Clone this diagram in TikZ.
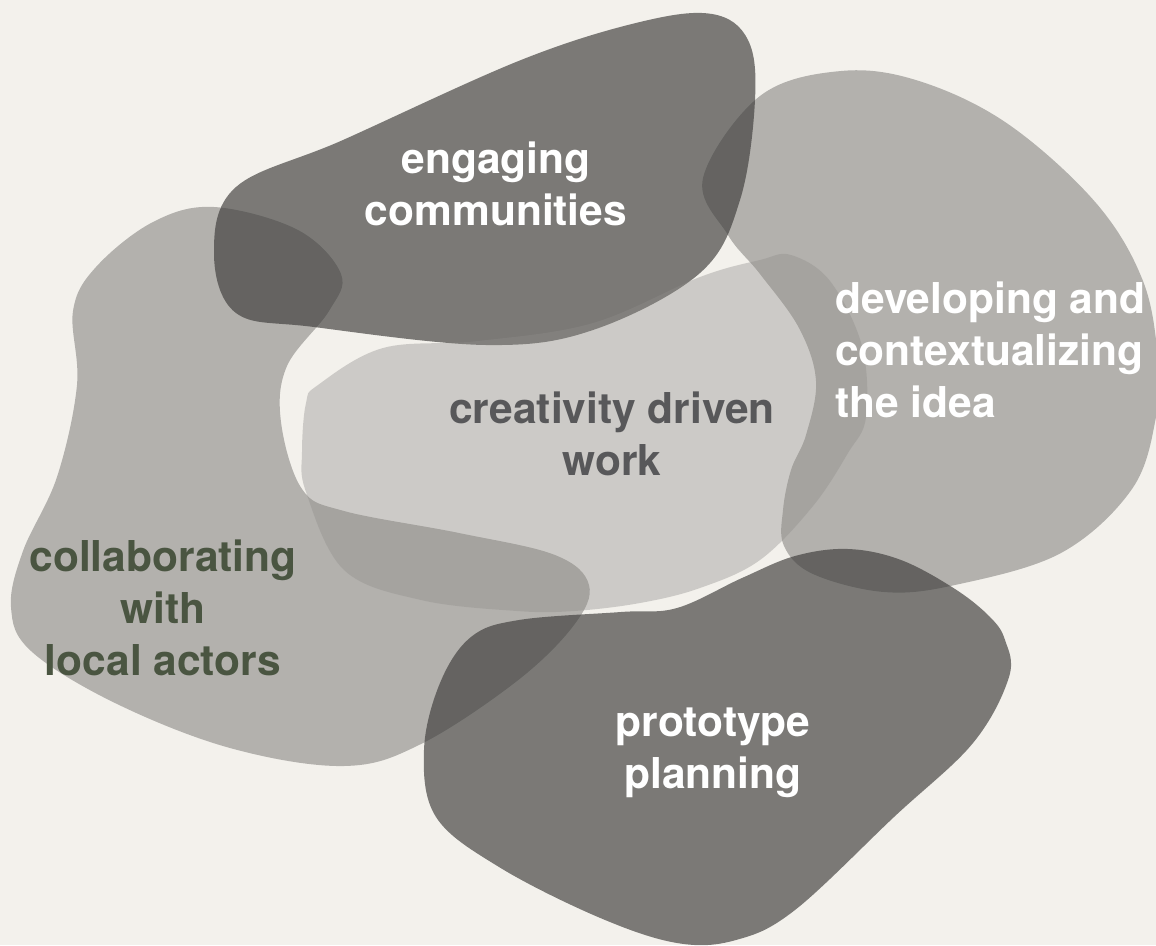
\documentclass[tikz,border=0pt]{standalone}
\usepackage{fontspec}
\setmainfont{TeX Gyre Heros}
\definecolor{bgc}{HTML}{F3F1EC}
\definecolor{blobc}{HTML}{3C3B39}
\definecolor{centc}{HTML}{8E8C8A}
\definecolor{greytext}{HTML}{58585A}
\definecolor{olivetext}{HTML}{4A5541}
\definecolor{whitetext}{HTML}{FFFFFF}
\tikzset{
  lightblob/.style={fill=blobc, fill opacity=0.35},
  darkblob/.style={fill=blobc, fill opacity=0.656},
  centblob/.style={fill=centc, fill opacity=0.375},
  lbl/.style={font=\fontsize{42.5}{52}\selectfont\bfseries, inner sep=0pt, align=center, anchor=base},
  lbll/.style={lbl, align=left}
}
\begin{document}
\begin{tikzpicture}[x=1pt,y=-1pt]
\useasboundingbox (0,0) rectangle (1156,945);
\fill[bgc] (0,0) rectangle (1156,945);
% collaborating
\fill[lightblob] plot[smooth cycle, tension=0.6] coordinates {
 (214,207) (298,230) (341,274) (329,311) (287,366) (281,422) (302,489) (344,511)
 (459,533) (555,555) (589,585) (574,625) (517,681) (421,744) (344,766) (230,748)
 (115,703) (31,651) (11,607) (23,551) (57,477) (77,385) (73,311) (96,267) (153,222)};
% developing
\fill[lightblob] plot[smooth cycle, tension=0.6] coordinates {
 (703,178) (760,96) (841,71) (919,81) (1008,124) (1096,203) (1143,281) (1158,360) (1156,417)
 (1132,489) (1061,553) (955,585) (884,592) (813,574) (784,546) (783,510) (791,470)
 (806,435) (816,381) (799,328) (760,274) (728,235)};
% engaging
\fill[darkblob] plot[smooth cycle, tension=0.6] coordinates {
 (236,187) (343,140) (521,60) (640,22) (712,14) (748,40) (755,100) (740,200) (700,273)
 (593,330) (486,345) (314,327) (236,313) (214,253)};
% prototype
\fill[darkblob] plot[smooth cycle, tension=0.6] coordinates {
 (677,608) (742,578) (795,556) (848,549) (901,560) (955,589) (990,617) (1005,640)
 (1009,677) (973,743) (894,817) (795,910) (736,940) (677,943) (598,917) (499,867)
 (436,817) (424,750) (440,683) (471,637) (519,620) (621,612)};
% creativity
\fill[centblob] plot[smooth cycle, tension=0.6] coordinates {
 (318,385) (383,348) (478,341) (593,323) (700,277) (760,260) (791,255) (830,281)
 (862,346) (866,417) (848,453) (813,506) (760,560) (700,588) (640,603) (574,611)
 (517,611) (421,600) (344,570) (306,492) (302,452) (306,403)};
% labels (base anchor = baseline of the last line)
\node[lbl, text=whitetext] (eng) at (496,225) {engaging\\communities};
\node[lbl, text=greytext] (cre) at (612,475) {creativity driven\\work};
\node[lbll, text=whitetext, anchor=base west] (dev) at (835,417) {developing and\\contextualizing\\the idea};
\node[lbl, text=olivetext] (col) at (163,675) {collaborating\\with\\local actors};
\node[lbl, text=whitetext] (pro) at (713,788) {prototype\\planning};
\end{tikzpicture}
\end{document}
